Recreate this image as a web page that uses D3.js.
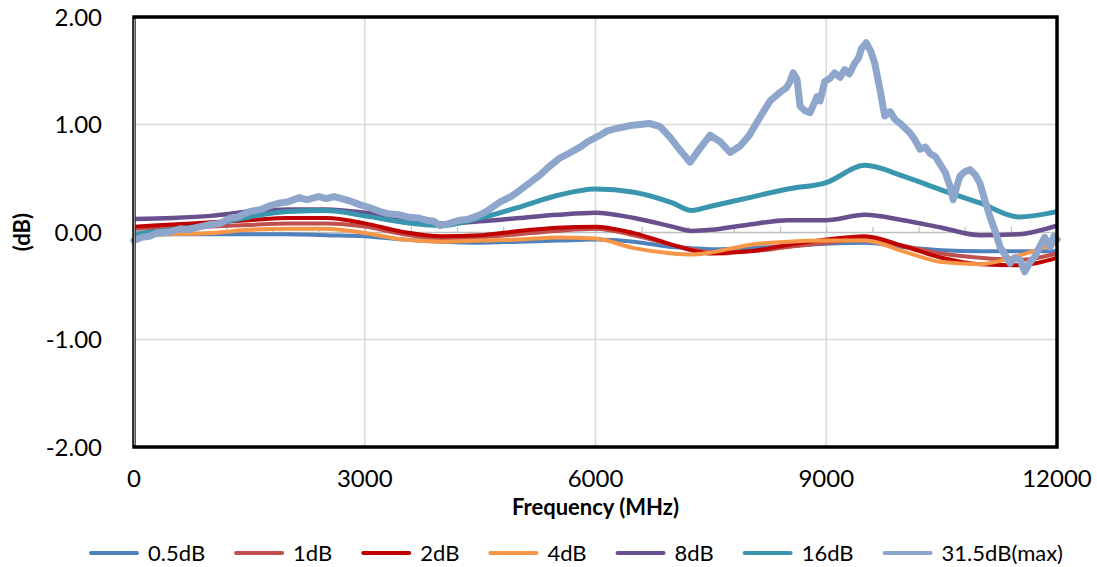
<!DOCTYPE html>
<html>
<head>
<meta charset="utf-8">
<script src="https://cdn.jsdelivr.net/npm/d3@7"></script>
<style>
  body { margin: 0; background: #fff; }
  text { font-family: Lato, 'Open Sans', sans-serif; fill: #000; }
</style>
</head>
<body>
<svg id="chart" width="1097" height="567"></svg>
<script>
// frequency points (MHz) shared by the smooth traces
const freqs = [0, 500, 1000, 1500, 2000, 2500, 3000, 3500, 4000, 4500, 5000, 5500, 6000,
  6500, 7000, 7250, 7500, 8000, 8500, 9000, 9500, 10000, 10500, 11000, 11500, 12000];

const att05 = [-0.02, -0.02, -0.02, -0.02, -0.02, -0.03, -0.04, -0.07, -0.09, -0.10, -0.09, -0.08, -0.07,
  -0.09, -0.14, -0.15, -0.16, -0.15, -0.13, -0.11, -0.10, -0.14, -0.17, -0.18, -0.18, -0.18];
const att1 = [0.03, 0.04, 0.05, 0.065, 0.08, 0.08, 0.05, -0.02, -0.06, -0.05, -0.02, 0.01, 0.03,
  -0.03, -0.12, -0.16, -0.19, -0.18, -0.14, -0.10, -0.07, -0.13, -0.20, -0.24, -0.26, -0.20];
const att2 = [0.05, 0.07, 0.09, 0.11, 0.13, 0.13, 0.08, 0.0, -0.04, -0.03, 0.01, 0.04, 0.05,
  -0.01, -0.12, -0.17, -0.20, -0.18, -0.12, -0.07, -0.04, -0.13, -0.24, -0.30, -0.31, -0.24];
const att4 = [-0.03, -0.02, -0.01, 0.02, 0.03, 0.03, -0.01, -0.07, -0.09, -0.08, -0.07, -0.05, -0.06,
  -0.15, -0.20, -0.21, -0.19, -0.12, -0.09, -0.08, -0.08, -0.18, -0.28, -0.30, -0.22, -0.10];
const att8 = [0.12, 0.13, 0.15, 0.19, 0.21, 0.21, 0.18, 0.13, 0.08, 0.10, 0.13, 0.16, 0.18,
  0.13, 0.05, 0.01, 0.02, 0.07, 0.11, 0.11, 0.16, 0.11, 0.04, -0.03, -0.02, 0.06];
const att16 = [-0.02, 0.02, 0.07, 0.14, 0.19, 0.20, 0.15, 0.09, 0.06, 0.13, 0.23, 0.34, 0.40,
  0.37, 0.27, 0.20, 0.24, 0.32, 0.40, 0.46, 0.62, 0.52, 0.39, 0.27, 0.14, 0.19];

// max attenuation trace is noisy, so it has its own denser points
const freqs31 = [0, 100, 200, 300, 470, 600, 700, 860, 1000, 1120, 1250, 1350, 1500, 1650, 1750,
  1900, 2000, 2150, 2250, 2400, 2500, 2600, 2700, 2800, 2950, 3050, 3200, 3300, 3450, 3550, 3700,
  3800, 3900, 3980, 4100, 4240, 4350, 4500, 4600, 4760, 4900, 5020, 5150, 5280, 5400, 5540, 5650,
  5800, 5900, 6060, 6150, 6320, 6450, 6580, 6700, 6840, 6970, 7100, 7230, 7360, 7490, 7620, 7750,
  7880, 8000, 8140, 8270, 8400, 8480, 8530, 8570, 8620, 8660, 8720, 8790, 8880, 8920, 8980, 9050,
  9110, 9180, 9240, 9300, 9370, 9420, 9460, 9520, 9580, 9630, 9700, 9760, 9830, 9890, 9960, 10020,
  10090, 10150, 10220, 10290, 10350, 10420, 10480, 10550, 10610, 10650, 10700, 10740, 10800, 10870,
  10940, 11000, 11060, 11130, 11200, 11260, 11330, 11390, 11450, 11520, 11580, 11650, 11710, 11780,
  11840, 11910, 11960, 12000];
const att31 = [-0.08, -0.05, -0.04, -0.01, 0.0, 0.03, 0.02, 0.05, 0.07, 0.08, 0.13, 0.14, 0.19, 0.21, 0.24,
  0.27, 0.28, 0.32, 0.30, 0.33, 0.31, 0.33, 0.31, 0.29, 0.25, 0.23, 0.19, 0.17, 0.16, 0.14, 0.13,
  0.11, 0.10, 0.06, 0.08, 0.11, 0.12, 0.16, 0.20, 0.28, 0.33, 0.39, 0.46, 0.53, 0.61, 0.69, 0.73,
  0.79, 0.84, 0.90, 0.94, 0.97, 0.99, 1.00, 1.01, 0.98, 0.88, 0.76, 0.65, 0.78, 0.90, 0.84, 0.74,
  0.80, 0.90, 1.07, 1.22, 1.30, 1.34, 1.40, 1.48, 1.42, 1.17, 1.13, 1.11, 1.26, 1.22, 1.40, 1.43,
  1.48, 1.44, 1.51, 1.47, 1.57, 1.62, 1.71, 1.76, 1.68, 1.57, 1.32, 1.08, 1.12, 1.05, 1.01, 0.97,
  0.92, 0.86, 0.77, 0.79, 0.73, 0.70, 0.63, 0.55, 0.42, 0.30, 0.43, 0.52, 0.56, 0.58,
  0.53, 0.45, 0.30, 0.14, 0.0, -0.14, -0.22, -0.29, -0.24, -0.26, -0.37, -0.28, -0.23, -0.13,
  -0.05, -0.14, -0.04, -0.07];

const seriesNames = ['0.5dB', '1dB', '2dB', '4dB', '8dB', '16dB', '31.5dB(max)'];
const seriesColors = ['#4F81BD', '#C0504D', '#C00000', '#F79646', '#6A4F8E', '#3A96AE', '#8EA6CC'];

const xTicks = [0, 3000, 6000, 9000, 12000];
const yTicks = [-2, -1, 0, 1, 2];

const svg = d3.select('#chart');
const plotLeft = 134, plotRight = 1057, plotTop = 17, plotBottom = 447;

const x = d3.scaleLinear().domain([0, 12000]).range([plotLeft, plotRight]);
const y = d3.scaleLinear().domain([-2, 2]).range([plotBottom, plotTop]);

// grid
svg.append('g')
  .selectAll('line')
  .data([3000, 6000, 9000])
  .join('line')
  .attr('x1', d => x(d))
  .attr('x2', d => x(d))
  .attr('y1', plotTop)
  .attr('y2', plotBottom)
  .style('stroke', '#d9d9d9')
  .style('stroke-width', 1.5);

svg.append('g')
  .selectAll('line')
  .data([1, -1])
  .join('line')
  .attr('x1', plotLeft)
  .attr('x2', plotRight)
  .attr('y1', d => y(d))
  .attr('y2', d => y(d))
  .style('stroke', '#d9d9d9')
  .style('stroke-width', 1.5);

// zero line with minor ticks
const xAxis = svg.append('g')
  .attr('transform', `translate(0,${y(0)})`)
  .call(d3.axisTop(x).tickValues(d3.range(600, 12000, 600)).tickSize(5).tickFormat(''));
xAxis.select('.domain').style('stroke', '#bfbfbf').style('stroke-width', 1.5);
xAxis.selectAll('.tick line').style('stroke', '#bfbfbf').style('stroke-width', 1.2);

// traces
const line = d3.line()
  .x(d => x(d[0]))
  .y(d => y(d[1]))
  .curve(d3.curveMonotoneX);

const smooth = [att05, att1, att2, att4, att8, att16];
const widths = [4, 4, 4, 4, 4.5, 5, 7];

smooth.forEach((vals, i) => {
  svg.append('path')
    .datum(freqs.map((f, j) => [f, vals[j]]))
    .attr('d', line)
    .style('fill', 'none')
    .style('stroke', seriesColors[i])
    .style('stroke-width', widths[i])
    .style('stroke-linejoin', 'round');
});

svg.append('path')
  .datum(freqs31.map((f, j) => [f, att31[j]]))
  .attr('d', d3.line().x(d => x(d[0])).y(d => y(d[1])))
  .style('fill', 'none')
  .style('stroke', seriesColors[6])
  .style('stroke-width', widths[6])
  .style('stroke-linejoin', 'round')
  .style('stroke-linecap', 'round');

// frame
svg.append('rect')
  .attr('x', plotLeft)
  .attr('y', plotTop)
  .attr('width', plotRight - plotLeft)
  .attr('height', plotBottom - plotTop)
  .style('fill', 'none')
  .style('stroke', '#000')
  .style('stroke-width', 3.5);

svg.append('line')
  .attr('x1', plotLeft + 0.5)
  .attr('x2', plotLeft + 0.5)
  .attr('y1', plotTop + 2)
  .attr('y2', plotBottom - 2)
  .style('stroke', '#9a9a9a')
  .style('stroke-width', 1.5);

// tick labels
svg.append('g')
  .selectAll('text')
  .data(yTicks)
  .join('text')
  .attr('x', 102)
  .attr('y', d => y(d))
  .attr('dy', '0.36em')
  .attr('text-anchor', 'end')
  .style('font-size', '24px')
  .text(d => d.toFixed(2));

svg.append('g')
  .selectAll('text')
  .data(xTicks)
  .join('text')
  .attr('x', d => x(d))
  .attr('y', 487)
  .attr('text-anchor', 'middle')
  .style('font-size', '24px')
  .text(d => d);

svg.append('text')
  .attr('x', (plotLeft + plotRight) / 2)
  .attr('y', 515)
  .attr('text-anchor', 'middle')
  .style('font-size', '22px')
  .style('font-weight', 'bold')
  .text('Frequency (MHz)');

svg.append('text')
  .attr('transform', `translate(30,${y(0)}) rotate(-90)`)
  .attr('text-anchor', 'middle')
  .style('font-size', '22px')
  .style('font-weight', 'bold')
  .text('(dB)');

// legend
const legend = svg.append('g');
let lx = 0;
seriesNames.forEach((name, i) => {
  const item = legend.append('g').attr('transform', `translate(${lx},0)`);
  item.append('line')
    .attr('x1', 0)
    .attr('x2', 46)
    .attr('y1', 0)
    .attr('y2', 0)
    .style('stroke', seriesColors[i])
    .style('stroke-width', 4)
    .style('stroke-linecap', 'round');
  const t = item.append('text')
    .attr('x', 57)
    .attr('y', 0)
    .attr('dy', '0.36em')
    .style('font-size', '22px')
    .text(name);
  lx += 57 + t.node().getComputedTextLength() + 31;
});
const legendW = lx - 31;
legend.attr('transform', `translate(${577 - legendW / 2},553)`);
</script>
</body>
</html>
